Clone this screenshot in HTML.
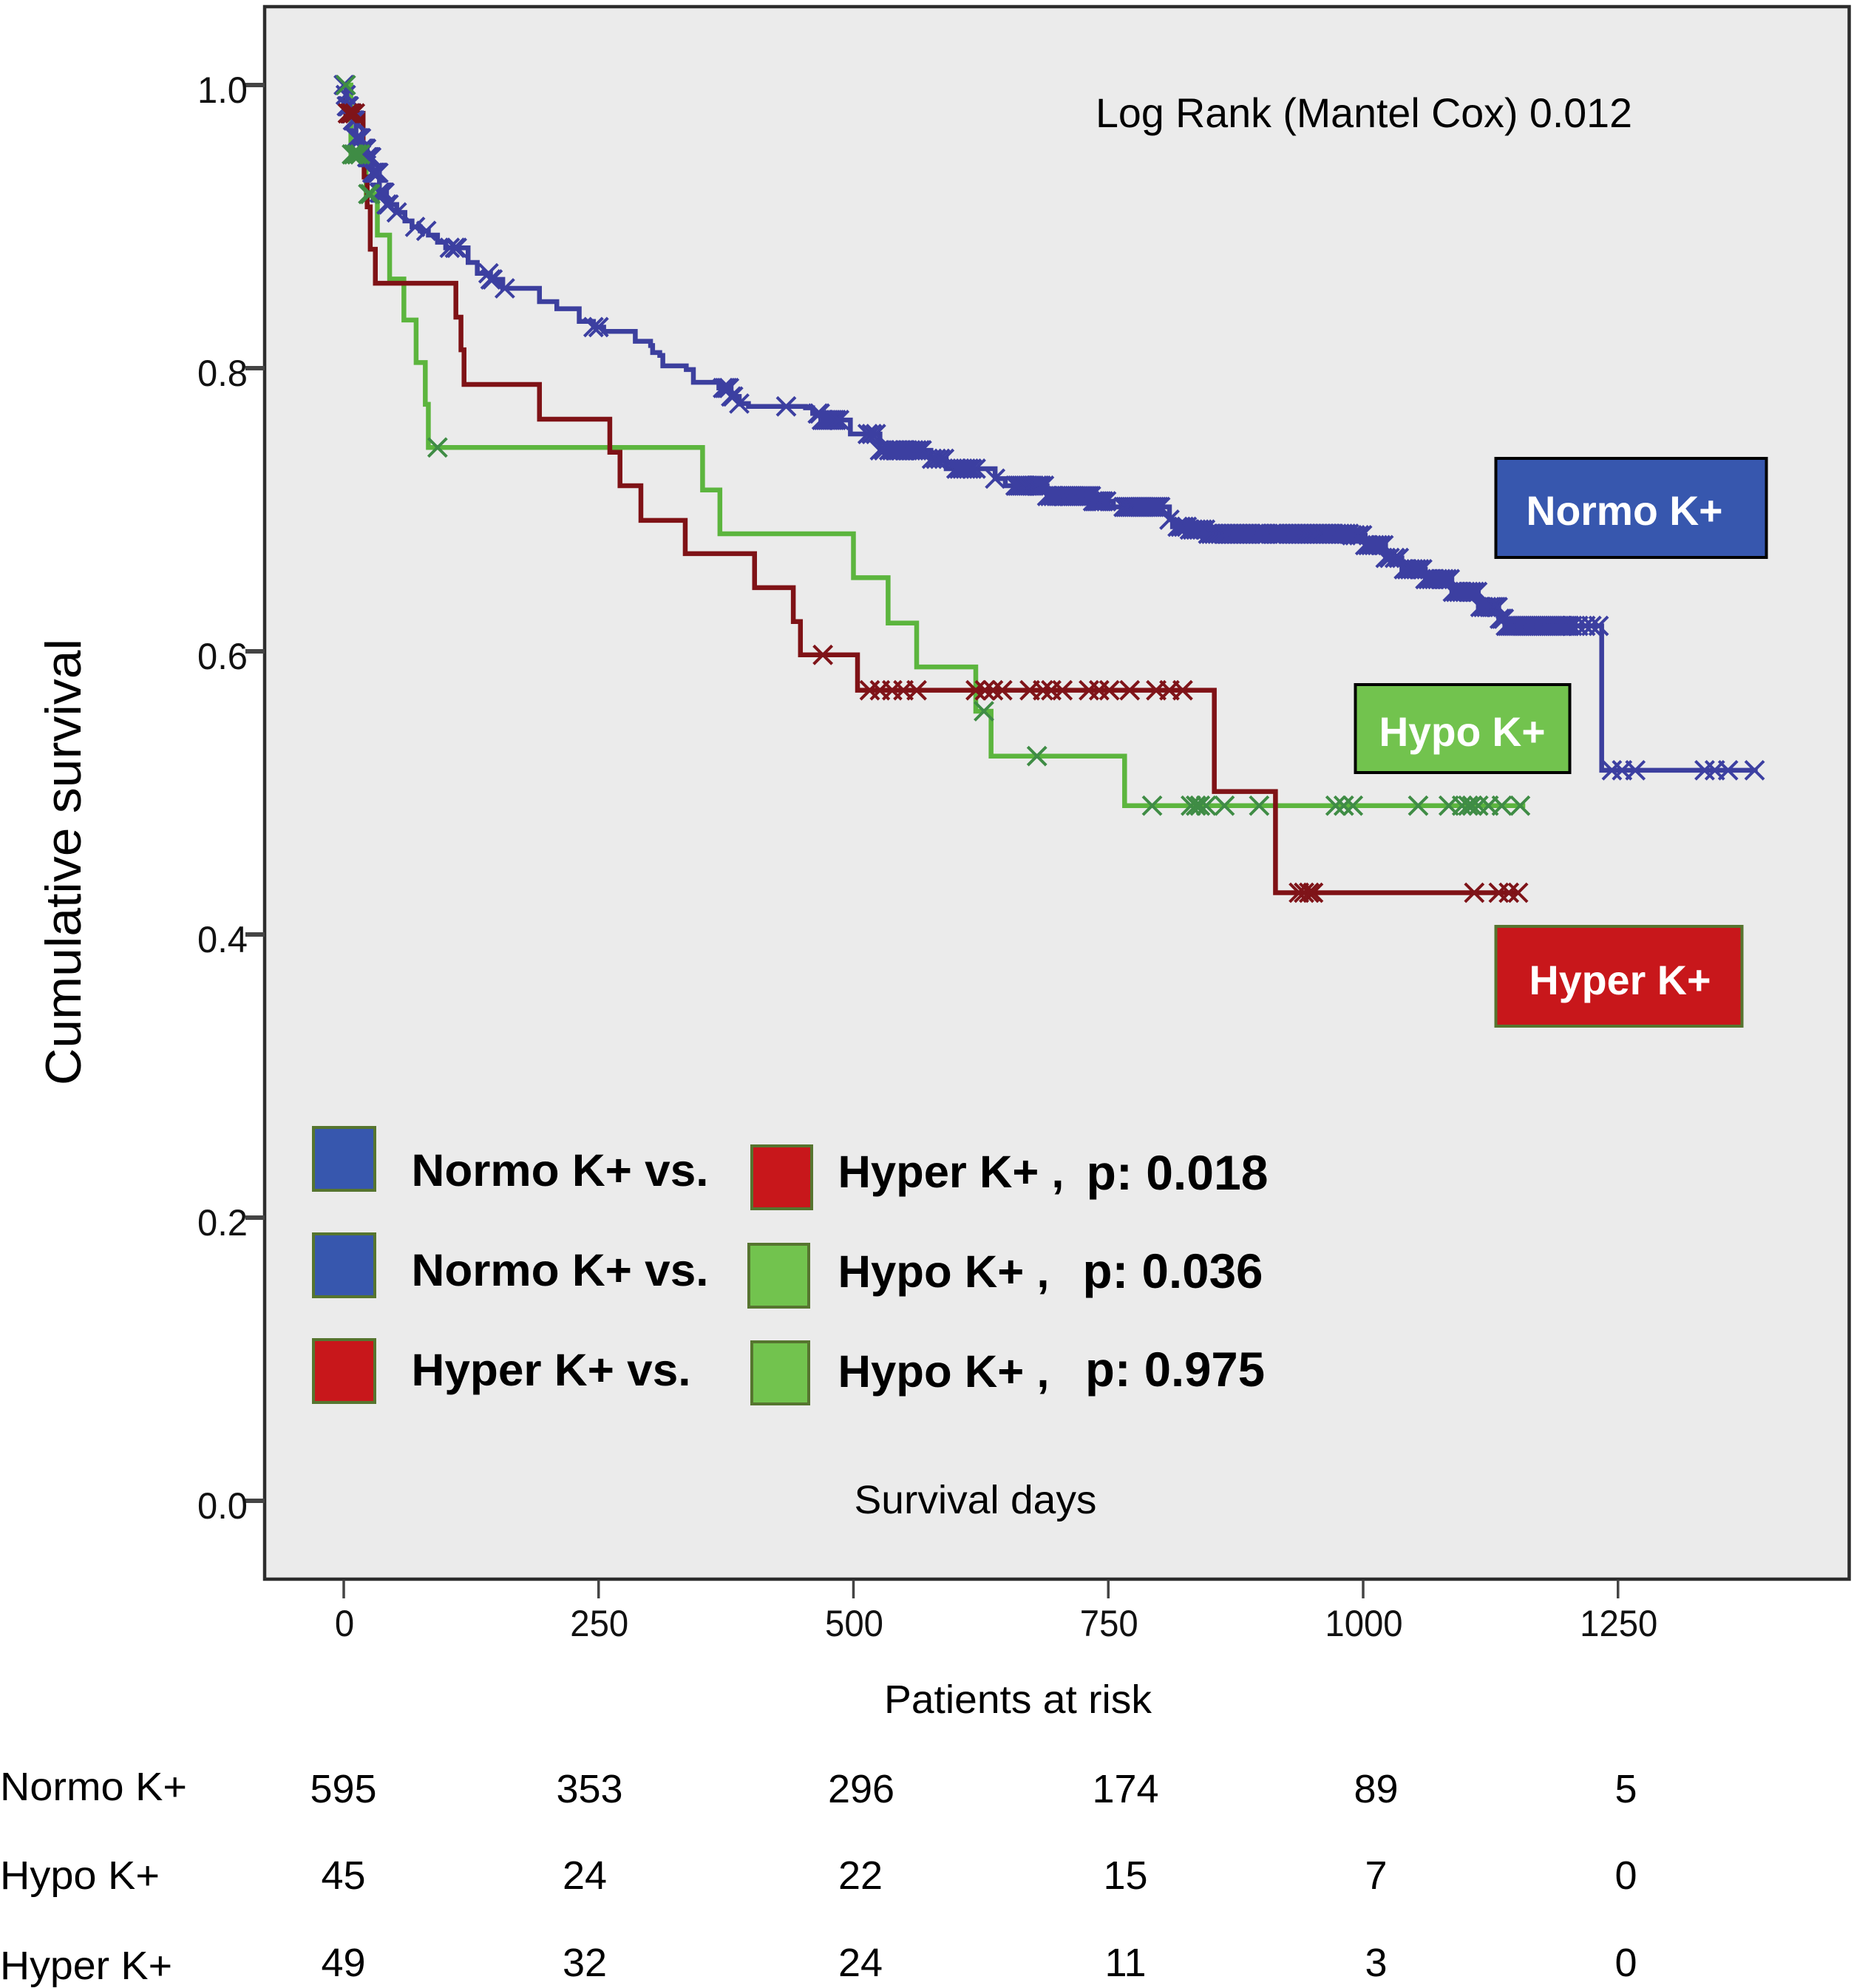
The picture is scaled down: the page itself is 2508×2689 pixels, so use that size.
<!DOCTYPE html>
<html lang="en">
<head>
<meta charset="utf-8">
<title>Kaplan-Meier survival by potassium group</title>
<style>
html,body{margin:0;padding:0;background:#fff;}
svg{display:block;font-family:"Liberation Sans",sans-serif;}
</style>
</head>
<body>
<svg id="chart" xmlns="http://www.w3.org/2000/svg" width="2508" height="2689" viewBox="0 0 2508 2689">
  <rect x="358" y="9" width="2143.5" height="2127" fill="#ebebeb" stroke="#2c2c2c" stroke-width="4.5"/>
  <g id="axes"></g>
  <g id="series"></g>

  <text transform="translate(109,1468) rotate(-90)" font-size="68" textLength="604" lengthAdjust="spacingAndGlyphs">Cumulative survival</text>
  <text x="1482" y="172" font-size="56" textLength="726" lengthAdjust="spacingAndGlyphs">Log Rank (Mantel Cox) 0.012</text>
  <text x="1155.5" y="2047" font-size="54" textLength="328" lengthAdjust="spacingAndGlyphs">Survival days</text>
  <text x="1196" y="2317" font-size="54" textLength="362" lengthAdjust="spacingAndGlyphs">Patients at risk</text>

  <g>
    <rect x="2023.5" y="620" width="366" height="134" fill="#3757ae" stroke="#000" stroke-width="4"/>
    <text x="2064.5" y="710" font-size="56" font-weight="bold" fill="#fff" textLength="266" lengthAdjust="spacingAndGlyphs">Normo K+</text>
  </g>
  <g>
    <rect x="1833.5" y="926" width="290" height="119" fill="#72c34e" stroke="#000" stroke-width="4"/>
    <text x="1865.5" y="1009" font-size="56" font-weight="bold" fill="#fff" textLength="225" lengthAdjust="spacingAndGlyphs">Hypo K+</text>
  </g>
  <g>
    <rect x="2023.5" y="1253" width="333" height="135" fill="#c8171b" stroke="#56752f" stroke-width="4"/>
    <text x="2068.5" y="1345" font-size="56" font-weight="bold" fill="#fff" textLength="246" lengthAdjust="spacingAndGlyphs">Hyper K+</text>
  </g>

  <g font-weight="bold">
    <rect x="424" y="1525" width="83" height="85" fill="#3757ae" stroke="#56752f" stroke-width="4"/>
    <text x="556.5" y="1604" font-size="61" textLength="402" lengthAdjust="spacingAndGlyphs">Normo K+ vs.</text>
    <rect x="1017" y="1550" width="81" height="85" fill="#c8171b" stroke="#56752f" stroke-width="4"/>
    <text x="1133.5" y="1606" font-size="61" textLength="306" lengthAdjust="spacingAndGlyphs">Hyper K+ ,</text>
    <text x="1469.5" y="1609" font-size="66" textLength="246" lengthAdjust="spacingAndGlyphs">p: 0.018</text>

    <rect x="424" y="1669" width="83" height="85" fill="#3757ae" stroke="#56752f" stroke-width="4"/>
    <text x="556.5" y="1739" font-size="61" textLength="402" lengthAdjust="spacingAndGlyphs">Normo K+ vs.</text>
    <rect x="1013" y="1683" width="81" height="85" fill="#72c34e" stroke="#56752f" stroke-width="4"/>
    <text x="1133.5" y="1741" font-size="61" textLength="286" lengthAdjust="spacingAndGlyphs">Hypo K+ ,</text>
    <text x="1464.5" y="1742" font-size="66" textLength="244" lengthAdjust="spacingAndGlyphs">p: 0.036</text>

    <rect x="424" y="1812" width="83" height="85" fill="#c8171b" stroke="#56752f" stroke-width="4"/>
    <text x="556.5" y="1874" font-size="61" textLength="378" lengthAdjust="spacingAndGlyphs">Hyper K+ vs.</text>
    <rect x="1017" y="1815" width="77" height="84" fill="#72c34e" stroke="#56752f" stroke-width="4"/>
    <text x="1133.5" y="1876" font-size="61" textLength="286" lengthAdjust="spacingAndGlyphs">Hypo K+ ,</text>
    <text x="1468" y="1875" font-size="66" textLength="243" lengthAdjust="spacingAndGlyphs">p: 0.975</text>
  </g>

  <g id="risk-table"></g>
</svg>
<script>
var xTicks = [0, 250, 500, 750, 1000, 1250];
var xTickLabels = ["0", "250", "500", "750", "1000", "1250"];
var yTicks = [1.0, 0.8, 0.6, 0.4, 0.2, 0.0];
var yTickLabels = ["1.0", "0.8", "0.6", "0.4", "0.2", "0.0"];

var normoDays = [0,2,3,6,9,12,18,23,28,35,42,52,60,67,75,83,92,100,122,131,144,156,192,209,231,245,255,286,301,303,310,313,336,343,368,380,388,397,453,460,468,497,526,576,591,639,649,690,734,755,810,813,830,846,989,1002,1022,1038,1061,1087,1113,1133,1139,1234];
var normoSurvival = [1,0.993,0.985,0.98,0.975,0.9624,0.955,0.949,0.938,0.924,0.9156,0.91,0.904,0.8998,0.897,0.894,0.889,0.885,0.8747,0.867,0.8627,0.8564,0.847,0.842,0.833,0.829,0.826,0.819,0.816,0.811,0.809,0.8016,0.799,0.79,0.786,0.78,0.775,0.773,0.772,0.768,0.7634,0.7535,0.742,0.736,0.729,0.722,0.717,0.7097,0.706,0.702,0.693,0.688,0.686,0.683,0.682,0.675,0.666,0.658,0.651,0.642,0.6313,0.623,0.618,0.516];
var normoEnd = 1387;
var normoCensored = [0,1,2,3,4,5,6,7,8,9,10,11,12,13,14,15,16,17,18,19,20,21,22,23,24,25,26,27,28,29,30,31,32,33,34,35,36,37,38,39,40,42,44,52,70,81,104,109,111,142,144,146,158,245,250,372,374,376,378,380,382,388,434,
465,467,469,471,473,475,477,479,481,483,486,514,518,522,526,530,535,538,541,544,547,550,553,556,559,562,565,567,577,581,585,589,601,604,607,610,613,616,620,639,659,661,663,665,667,669,671,673,675,677,680,682,684,687,690,693,696,699,701,703,705,707,709,711,713,715,717,719,721,723,725,727,729,731,733,735,737,739,741,743,745,748,765,767,769,771,773,775,777,779,781,783,785,787,789,791,793,795,797,799,801,810,818,821,824,827,830,833,836,839,842,845,848,851,854,857,860,863,866,869,872,875,878,881,884,887,890,893,896,899,902,905,911,914,917,920,923,926,929,932,935,938,941,944,947,950,953,956,959,962,965,968,971,974,977,980,983,986,989,992,996,999,1002,1005,1008,1011,1014,1017,1020,1022,1026,1031,1035,1040,1043,1046,1049,1052,1055,1058,1061,1064,1067,1070,1073,1076,1079,1082,1085,1088,1091,1094,1097,1100,1103,1106,1109,1112,1115,1118,1121,1124,1126,1128,1130,1132,1134,1136,1138,1140,1142,1144,1146,1148,1150,1152,1154,1156,1158,1160,1162,1164,1166,1168,1170,1172,1174,1176,1178,1180,1182,1184,1186,1188,1190,1192,1194,1196,1198,1200,1202,1205,1211,1218,1224,1231,1244,1254,1267,1335,1345,1358,1384];

var hypoDays = [0,7,22,33,45,59,71,80,83,352,369,500,534,562,620,635,766];
var hypoSurvival = [1,0.951,0.923,0.894,0.863,0.834,0.804,0.7745,0.744,0.714,0.683,0.652,0.62,0.589,0.5577,0.526,0.491];
var hypoEnd = 1159;
var hypoCensored = [2,8,10,13,16,24,26,92,628,680,793,831,836,840,846,864,898,973,981,990,1054,1084,1097,1103,1107,1113,1123,1136,1154];

var hyperDays = [0,2,19,20,23,26,31,110,115,118,192,261,271,291.5,335,403,441,448,504,854,914];
var hyperSurvival = [1,0.98,0.958,0.935,0.914,0.884,0.86,0.836,0.813,0.7885,0.764,0.7406,0.717,0.6925,0.669,0.645,0.621,0.5975,0.5725,0.501,0.4295];
var hyperEnd = 1152;
var hyperCensored = [4,6,8,11,470,516,526,538,549,562,620,629,637,646,673,686,694,705,731,741,751,771,797,810,823,937,942,947,951,1109,1133,1143,1152];

var riskGroups = ["Normo K+", "Hypo K+", "Hyper K+"];
var riskNormo = ["595", "353", "296", "174", "89", "5"];
var riskHypo = ["45", "24", "22", "15", "7", "0"];
var riskHyper = ["49", "32", "24", "11", "3", "0"];

var SVGNS = "http://www.w3.org/2000/svg";
function xScale(d) { return 465 + 1.379 * d; }
function yScale(v) { return 2030 - 1915 * v; }
function stepValue(days, surv, d) {
  var v = surv[0];
  for (var i = 0; i < days.length; i++) { if (days[i] <= d) { v = surv[i]; } }
  return v;
}
function stepPath(days, surv, end) {
  var p = "M" + xScale(days[0]) + " " + yScale(surv[0]);
  for (var i = 1; i < days.length; i++) {
    p += "H" + xScale(days[i]) + "V" + yScale(surv[i]);
  }
  return p + "H" + xScale(end);
}
function drawLine(parent, days, surv, end, color, name) {
  var el = document.createElementNS(SVGNS, "path");
  
  
  el.setAttribute("d", stepPath(days, surv, end));
  el.setAttribute("fill", "none");
  el.setAttribute("stroke", color);
  el.setAttribute("stroke-width", "6.5");
  el.setAttribute("stroke-linejoin", "miter");
  parent.appendChild(el);
}
function drawMarks(parent, days, surv, censored, color, name) {
  var g = document.createElementNS(SVGNS, "g");
  
  
  var r = 12.5;
  censored.forEach(function (d) {
    var cx = xScale(d), cy = yScale(stepValue(days, surv, d));
    var m = document.createElementNS(SVGNS, "path");
    
    
    m.setAttribute("d", "M" + (cx - r) + " " + (cy - r) + "L" + (cx + r) + " " + (cy + r) + "M" + (cx - r) + " " + (cy + r) + "L" + (cx + r) + " " + (cy - r));
    m.setAttribute("stroke", color);
    m.setAttribute("stroke-width", "4");
    m.setAttribute("fill", "none");
    g.appendChild(m);
  });
  parent.appendChild(g);
}
function addText(parent, str, x, y, size, anchor, fill, name) {
  var t = document.createElementNS(SVGNS, "text");
  
  
  t.setAttribute("x", x);
  t.setAttribute("y", y);
  t.setAttribute("font-size", size);
  t.setAttribute("text-anchor", anchor);
  t.setAttribute("fill", fill);
  t.textContent = str;
  parent.appendChild(t);
  return t;
}
function addTick(parent, x1, y1, x2, y2, width, name) {
  var l = document.createElementNS(SVGNS, "line");
  
  
  l.setAttribute("x1", x1);
  l.setAttribute("y1", y1);
  l.setAttribute("x2", x2);
  l.setAttribute("y2", y2);
  l.setAttribute("stroke", "#444");
  l.setAttribute("stroke-width", width);
  parent.appendChild(l);
}

var axes = document.getElementById("axes");
xTicks.forEach(function (d, i) {
  addTick(axes, xScale(d), 2137, xScale(d), 2162, "3.5", "x-tick");
  var t = addText(axes, xTickLabels[i], xScale(d) + 1, 2213, 50, "middle", "#111", "x-tick-label");
  t.setAttribute("textLength", String(26.3 * xTickLabels[i].length));
  t.setAttribute("lengthAdjust", "spacingAndGlyphs");
});
yTicks.forEach(function (v, i) {
  addTick(axes, 332, yScale(v), 358, yScale(v), "6", "y-tick");
  var t = addText(axes, yTickLabels[i], 301, yScale(v) + 24, 50, "middle", "#111", "y-tick-label");
  t.setAttribute("textLength", "68");
  t.setAttribute("lengthAdjust", "spacingAndGlyphs");
});

var series = document.getElementById("series");
drawLine(series, hypoDays, hypoSurvival, hypoEnd, "#5cb53e", "hypo-survival-line");
drawLine(series, hyperDays, hyperSurvival, hyperEnd, "#7f1216", "hyper-survival-line");
drawLine(series, normoDays, normoSurvival, normoEnd, "#3c3f9e", "normo-survival-line");
drawMarks(series, normoDays, normoSurvival, normoCensored, "#3c3fa1", "normo-censor-marks");
drawMarks(series, hypoDays, hypoSurvival, hypoCensored, "#3f8c45", "hypo-censor-marks");
drawMarks(series, hyperDays, hyperSurvival, hyperCensored, "#7f1419", "hyper-censor-marks");

var riskTable = document.getElementById("risk-table");
var riskRows = [riskNormo, riskHypo, riskHyper];
var riskLabelBaselines = [2435, 2555, 2677];
var riskLabelWidths = [253, 216, 233];
var riskBaselines = [2438, 2555, 2673];
var riskCenters = [[464.5, 797.5, 1165, 1522.5, 1861.5, 2199.5], [464.5, 791, 1164, 1522.5, 1861.5, 2199.5], [464.5, 791, 1164, 1522.5, 1861.5, 2199.5]];
riskGroups.forEach(function (name, r) {
  var lbl = addText(riskTable, name, 0, riskLabelBaselines[r], 54, "start", "#000", "risk-row-label");
  lbl.setAttribute("textLength", String(riskLabelWidths[r]));
  lbl.setAttribute("lengthAdjust", "spacingAndGlyphs");
  riskRows[r].forEach(function (val, c) {
    addText(riskTable, val, riskCenters[r][c], riskBaselines[r], 54, "middle", "#000", "risk-count");
  });
});
</script>
</body>
</html>
